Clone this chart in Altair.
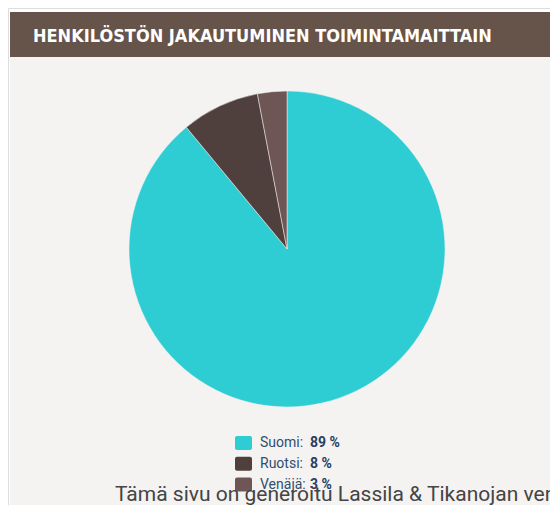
import altair as alt
import pandas as pd

categories = ["Suomi", "Ruotsi", "Venäjä"]
shares = [89, 8, 3]
colors = ["#2ECDD4", "#4F3F3D", "#6E5655"]
title_text = "HENKILÖSTÖN JAKAUTUMINEN TOIMINTAMAITTAIN"
footer_text = "Tämä sivu on generoitu Lassila & Tikanojan verkkosivuilta"

df = pd.DataFrame({
    "cat": categories,
    "share": shares,
    "order": list(range(len(categories))),
})
df["label"] = df["cat"] + ":"
df["val"] = df["share"].astype(str) + " %"

W, H = 542, 497
one = pd.DataFrame({"a": [0]})

bg = alt.Chart(one).mark_rect(color="#F5F3F1").encode(
    x=alt.value(2), x2=alt.value(W), y=alt.value(49), y2=alt.value(H)
)
header = alt.Chart(one).mark_rect(color="#66544A").encode(
    x=alt.value(2), x2=alt.value(W), y=alt.value(4), y2=alt.value(49)
)
title = alt.Chart(one).mark_text(
    text=title_text, color="white", font="DejaVu Sans Condensed, Roboto Condensed, Roboto",
    fontWeight="bold", fontSize=18, align="left", baseline="alphabetic"
).encode(x=alt.value(25), y=alt.value(34))

color_scale = alt.Scale(domain=categories, range=colors)

pie = alt.Chart(df).mark_arc(radius=158, stroke="#F5F3F1", strokeWidth=0.5).encode(
    theta=alt.Theta("share:Q", stack=True),
    order=alt.Order("order:Q"),
    color=alt.Color("cat:N", scale=color_scale, legend=None),
    x=alt.value(279), y=alt.value(241),
)

yscale = alt.Scale(type="point", domain=categories, range=[435, 476.5], padding=0)
leg_sq = alt.Chart(df).mark_rect(cornerRadius=2, width=17, height=14).encode(
    x=alt.value(235.5),
    y=alt.Y("cat:N", scale=yscale, axis=None),
    color=alt.Color("cat:N", scale=color_scale, legend=None),
)
leg_lab = alt.Chart(df).mark_text(
    align="left", baseline="middle", font="Roboto", fontSize=14, color="#2E4E73"
).encode(x=alt.value(252), y=alt.Y("cat:N", scale=yscale, axis=None), text="label:N")
leg_val = alt.Chart(df).mark_text(
    align="left", baseline="middle", font="Roboto", fontSize=14, fontWeight="bold",
    color="#253F5F"
).encode(x=alt.value(302), y=alt.Y("cat:N", scale=yscale, axis=None), text="val:N")

footer = alt.Chart(one).mark_text(
    text=footer_text, color="#444444", font="Roboto", fontSize=21,
    align="left", baseline="alphabetic"
).encode(x=alt.value(107), y=alt.value(493))

chart = alt.layer(bg, header, title, pie, leg_sq, leg_lab, leg_val, footer).properties(
    width=W, height=H, autosize=alt.AutoSizeParams(type="none"), padding=0
).configure_view(stroke=None).configure(background="white")

chart.save("out.html", embed_options={"renderer": "svg", "actions": False})
